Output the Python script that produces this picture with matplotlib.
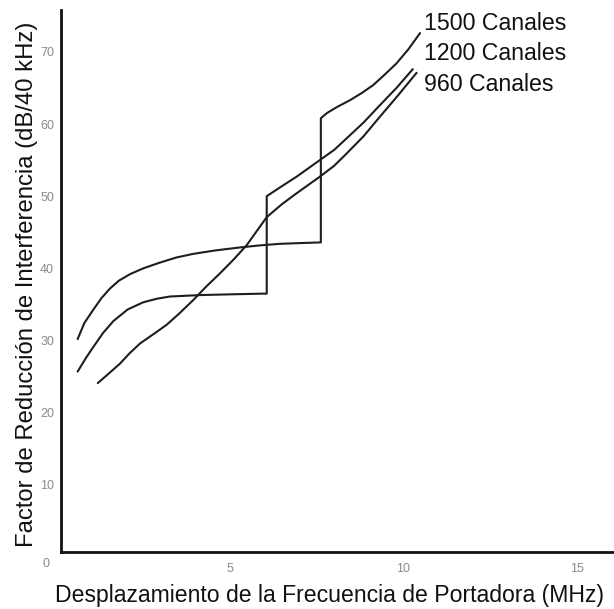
import matplotlib.pyplot as plt

plt.rcParams['font.family'] = ['Liberation Sans', 'DejaVu Sans']

# values (MHz, dB/40 kHz)
x_1500 = [0.61, 0.80, 1.05, 1.30, 1.54, 1.80, 2.12, 2.50, 2.98, 3.45, 3.93, 4.60, 5.29, 5.90,
          6.44, 7.00, 7.62, 7.62, 7.79, 8.10, 8.46, 8.80, 9.13, 9.45, 9.80, 10.15, 10.48]
y_1500 = [30.2, 32.4, 34.2, 35.9, 37.2, 38.3, 39.2, 40.0, 40.8, 41.5, 42.0, 42.5, 42.9, 43.2,
          43.4, 43.5, 43.6, 60.8, 61.5, 62.4, 63.3, 64.3, 65.4, 66.8, 68.4, 70.4, 72.6]

x_1200 = [0.61, 0.85, 1.06, 1.35, 1.64, 2.05, 2.50, 2.90, 3.27, 4.14, 5.00, 5.96, 6.06,
          6.06, 6.50, 6.92, 7.59, 8.00, 8.36, 8.85, 9.32, 9.80, 10.27]
y_1200 = [25.7, 27.6, 29.1, 31.1, 32.7, 34.3, 35.3, 35.8, 36.1, 36.3, 36.4, 36.5, 36.5,
          50.0, 51.4, 52.7, 55.0, 56.4, 58.0, 60.2, 62.6, 65.0, 67.6]

x_960 = [1.19, 1.50, 1.83, 2.10, 2.41, 2.80, 3.18, 3.55, 3.94, 4.30, 4.71, 5.10, 5.48, 6.06,
         6.50, 6.92, 7.59, 8.00, 8.36, 8.85, 9.32, 9.85, 10.38]
y_960 = [24.1, 25.4, 26.8, 28.2, 29.6, 30.9, 32.2, 33.8, 35.6, 37.4, 39.3, 41.2, 43.2, 47.1,
         48.9, 50.4, 52.7, 54.2, 55.9, 58.3, 61.0, 64.0, 67.1]

series_labels = ['1500 Canales', '1200 Canales', '960 Canales']
x_ticks = [5, 10, 15]
y_ticks = [10, 20, 30, 40, 50, 60, 70]

W, H = 614, 609
fig = plt.figure(figsize=(W / 100, H / 100), dpi=100)
ax = fig.add_axes([61 / W, 1 - 552 / H, 1 - 61 / W, (552 - 10) / H])

line_kw = dict(color='#1e1e1e', lw=1.5, solid_joinstyle='round', solid_capstyle='round')
ax.plot(x_1500, y_1500, **line_kw)
ax.plot(x_1200, y_1200, **line_kw)
ax.plot(x_960, y_960, **line_kw)

ax.set_xlim(0.13, 16.07)
ax.set_ylim(0.7, 75.8)

for side in ['top', 'right']:
    ax.spines[side].set_visible(False)
for side in ['left', 'bottom']:
    ax.spines[side].set_linewidth(2)
    ax.spines[side].set_color('#111111')

ax.set_xticks(x_ticks)
ax.set_yticks(y_ticks)
ax.tick_params(axis='both', length=0, labelsize=9, labelcolor='#8a8a8a')
ax.tick_params(axis='x', pad=8)
ax.tick_params(axis='y', pad=5)
fig.text(46 / W, 1 - 564 / H, '0', fontsize=9, color='#8a8a8a', ha='center', va='center')

# curve labels at the line ends
label_base = [30, 60, 90.7]
for lab, yb in zip(series_labels, label_base):
    fig.text(424 / W, 1 - yb / H, lab, fontsize=16.7, ha='left', va='baseline', color='#111111')

fig.text(55 / W, 1 - 601.7 / H, 'Desplazamiento de la Frecuencia de Portadora (MHz)',
         fontsize=16.6, ha='left', va='baseline', color='#111111')
fig.text(33 / W, 1 - 546.7 / H, 'Factor de Reducción de Interferencia (dB/40 kHz)',
         fontsize=17.2, ha='left', va='baseline', rotation=90, rotation_mode='anchor',
         color='#111111')

fig.savefig('out.png', dpi=100)
